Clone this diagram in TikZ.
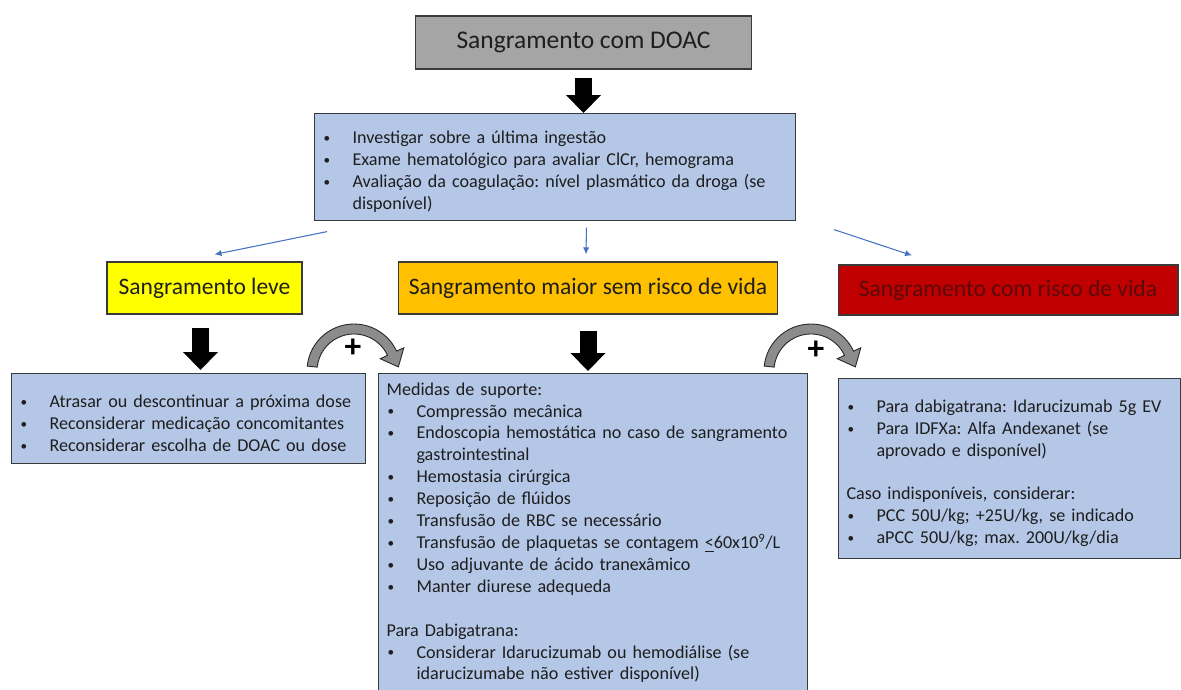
\documentclass[tikz,border=0pt]{standalone}
\usepackage{fontspec}
\setmainfont{Carlito}
\usepackage{xcolor}
\usepackage{tikz}
\usetikzlibrary{arrows.meta}
\usetikzlibrary{positioning}
\usetikzlibrary{calc}

\definecolor{azulcaixa}{HTML}{B4C7E7}
\definecolor{cinzatitulo}{HTML}{A5A5A5}
\definecolor{amarelo}{HTML}{FFFF00}
\definecolor{laranja}{HTML}{FFC000}
\definecolor{vermelho}{HTML}{C00000}
\definecolor{vinho}{HTML}{5A0A0A}
\definecolor{azulseta}{HTML}{4472C4}
\definecolor{borda}{HTML}{3A3A3A}
\definecolor{cinzaseta}{HTML}{8C8C8C}
\definecolor{texto}{HTML}{1E1E1E}

\frenchspacing
\newlength{\pxl}
\setlength{\pxl}{0.02cm}
\newcommand{\bala}[1]{\par\hangindent=30\pxl\hangafter=1\noindent\makebox[30\pxl][l]{\hspace{1\pxl}{\fontsize{7.5}{8}\selectfont\raisebox{0.6pt}{\textbullet}}}#1}
\newcommand{\linhavazia}{\par\vspace{\baselineskip}}

\tikzset{
  pics/curva/.style={code={
    \begin{scope}[yscale=-1]
      \filldraw[fill=cinzaseta, draw=black!85, line width=0.5pt]
        (174:47) arc[start angle=174, end angle=25, radius=47] -- (25:55) -- (44.4,4.1)
        -- (25:29) -- (25:37) arc[start angle=25, end angle=174, radius=37] -- cycle;
    \end{scope}
  }}
}

\begin{document}
\begin{tikzpicture}[x=0.02cm, y=-0.02cm,
  titulo/.style={draw=borda, fill=cinzatitulo, line width=0.6pt, minimum width=6.74cm,
    minimum height=1.06cm, text=texto, font=\fontsize{14.5}{17}\selectfont},
  nivel/.style={draw=borda, line width=0.6pt, minimum height=1.04cm, text=texto,
    font=\fontsize{13.4}{16}\selectfont},
  caixa/.style={draw=borda, fill=azulcaixa, line width=0.6pt, anchor=north west,
    align=left, inner xsep=0.16cm, inner ysep=0.16cm, text=texto,
    font=\fontsize{10.3}{12.47}\selectfont},
  bloco/.style={black, line width=0.34cm, -{Triangle[width=0.68cm,length=0.36cm]}},
  fina/.style={draw=azulseta, line width=0.6pt, -{Latex[length=4pt,width=3.5pt]}},
  mais/.style={inner sep=0pt, text=black, font=\fontsize{19}{20}\selectfont\bfseries}]

\path[fill=white] (0,0) rectangle (1181,690);
\useasboundingbox (0,0) rectangle (1181,690);

% Titulo e avaliacao inicial
\node[titulo] (doac) at (583.5,42.5) {Sangramento com DOAC};
\node[caixa, text width=9.3cm, minimum height=1.96cm] (aval) at (314,113) {%
\bala{Investigar sobre a última ingestão}
\bala{Exame hematológico para avaliar ClCr, hemograma}
\bala{Avaliação da coagulação: nível plasmático da droga (se\newline disponível)}\par};

% Niveis de sangramento
\node[nivel, fill=amarelo, minimum width=3.9cm] (leve) at (204.5,288) {Sangramento leve};
\node[nivel, fill=laranja, minimum width=7.6cm] (maior) at (588,288) {Sangramento maior sem risco de vida};
\node[nivel, fill=vermelho, minimum width=6.8cm, minimum height=1.0cm, text=vinho] (risco) at (1008,290) {Sangramento com risco de vida};

% Condutas
\node[caixa, text width=6.76cm, minimum height=1.8cm] (condleve) at (11,373) {%
\bala{Atrasar ou descontinuar a próxima dose}
\bala{Reconsiderar medicação concomitantes}
\bala{Reconsiderar escolha de DOAC ou dose}\par};

\node[caixa, text width=8.26cm, inner ysep=0.18cm] (condmaior) at (378,373) {%
Medidas de suporte:
\bala{Compressão mecânica}
\bala{Endoscopia hemostática no caso de sangramento\newline gastrointestinal}
\bala{Hemostasia cirúrgica}
\bala{Reposição de flúidos}
\bala{Transfusão de RBC se necessário}
\bala{Transfusão de plaquetas se contagem \underline{<}60x10\textsuperscript{9}/L}
\bala{Uso adjuvante de ácido tranexâmico}
\bala{Manter diurese adequeda}
\linhavazia
\noindent Para Dabigatrana:
\bala{Considerar Idarucizumab ou hemodiálise (se\newline idarucizumabe não estiver disponível)}\par};

\node[caixa, text width=6.52cm, minimum height=3.6cm] (condrisco) at (838,378) {%
\bala{Para dabigatrana: Idarucizumab 5g EV}
\bala{Para IDFXa: Alfa Andexanet (se\newline aprovado e disponível)}
\linhavazia
\noindent Caso indisponíveis, considerar:
\bala{PCC 50U/kg; +25U/kg, se indicado}
\bala{aPCC 50U/kg; max. 200U/kg/dia}\par};

% Setas grossas
\draw[bloco, shorten <=8\pxl] (doac.south) -- (doac.south |- aval.north);
\draw[bloco, shorten <=13\pxl, shorten >=3\pxl] ([xshift=-4\pxl]leve.south) -- ([xshift=-4\pxl]leve.south |- condleve.north);
\draw[bloco, shorten <=16\pxl, shorten >=2\pxl] (maior.south) -- (maior.south |- condmaior.north);

% Setas finas
\draw[fina] ($(aval.south west)+(13,11)$) -- ($(leve.north)+(10,-7)$);
\draw[fina] ($(aval.south)+(31.5,7)$) -- ($(maior.north)+(-2,-7)$);
\draw[fina] ($(aval.south east)+(38,9)$) -- ($(risco.north)+(-96,-9)$);

% Setas curvas com +
\pic at ($(condleve.north east)+(-12,-2)$) {curva};
\node[mais] (mais1) at ($(condleve.north east)+(-13,-25)$) {+};
\pic at ($(condmaior.north east)+(3,-2)$) {curva};
\node[mais] (mais2) at ($(condmaior.north east)+(8,-23)$) {+};

\end{tikzpicture}
\end{document}
